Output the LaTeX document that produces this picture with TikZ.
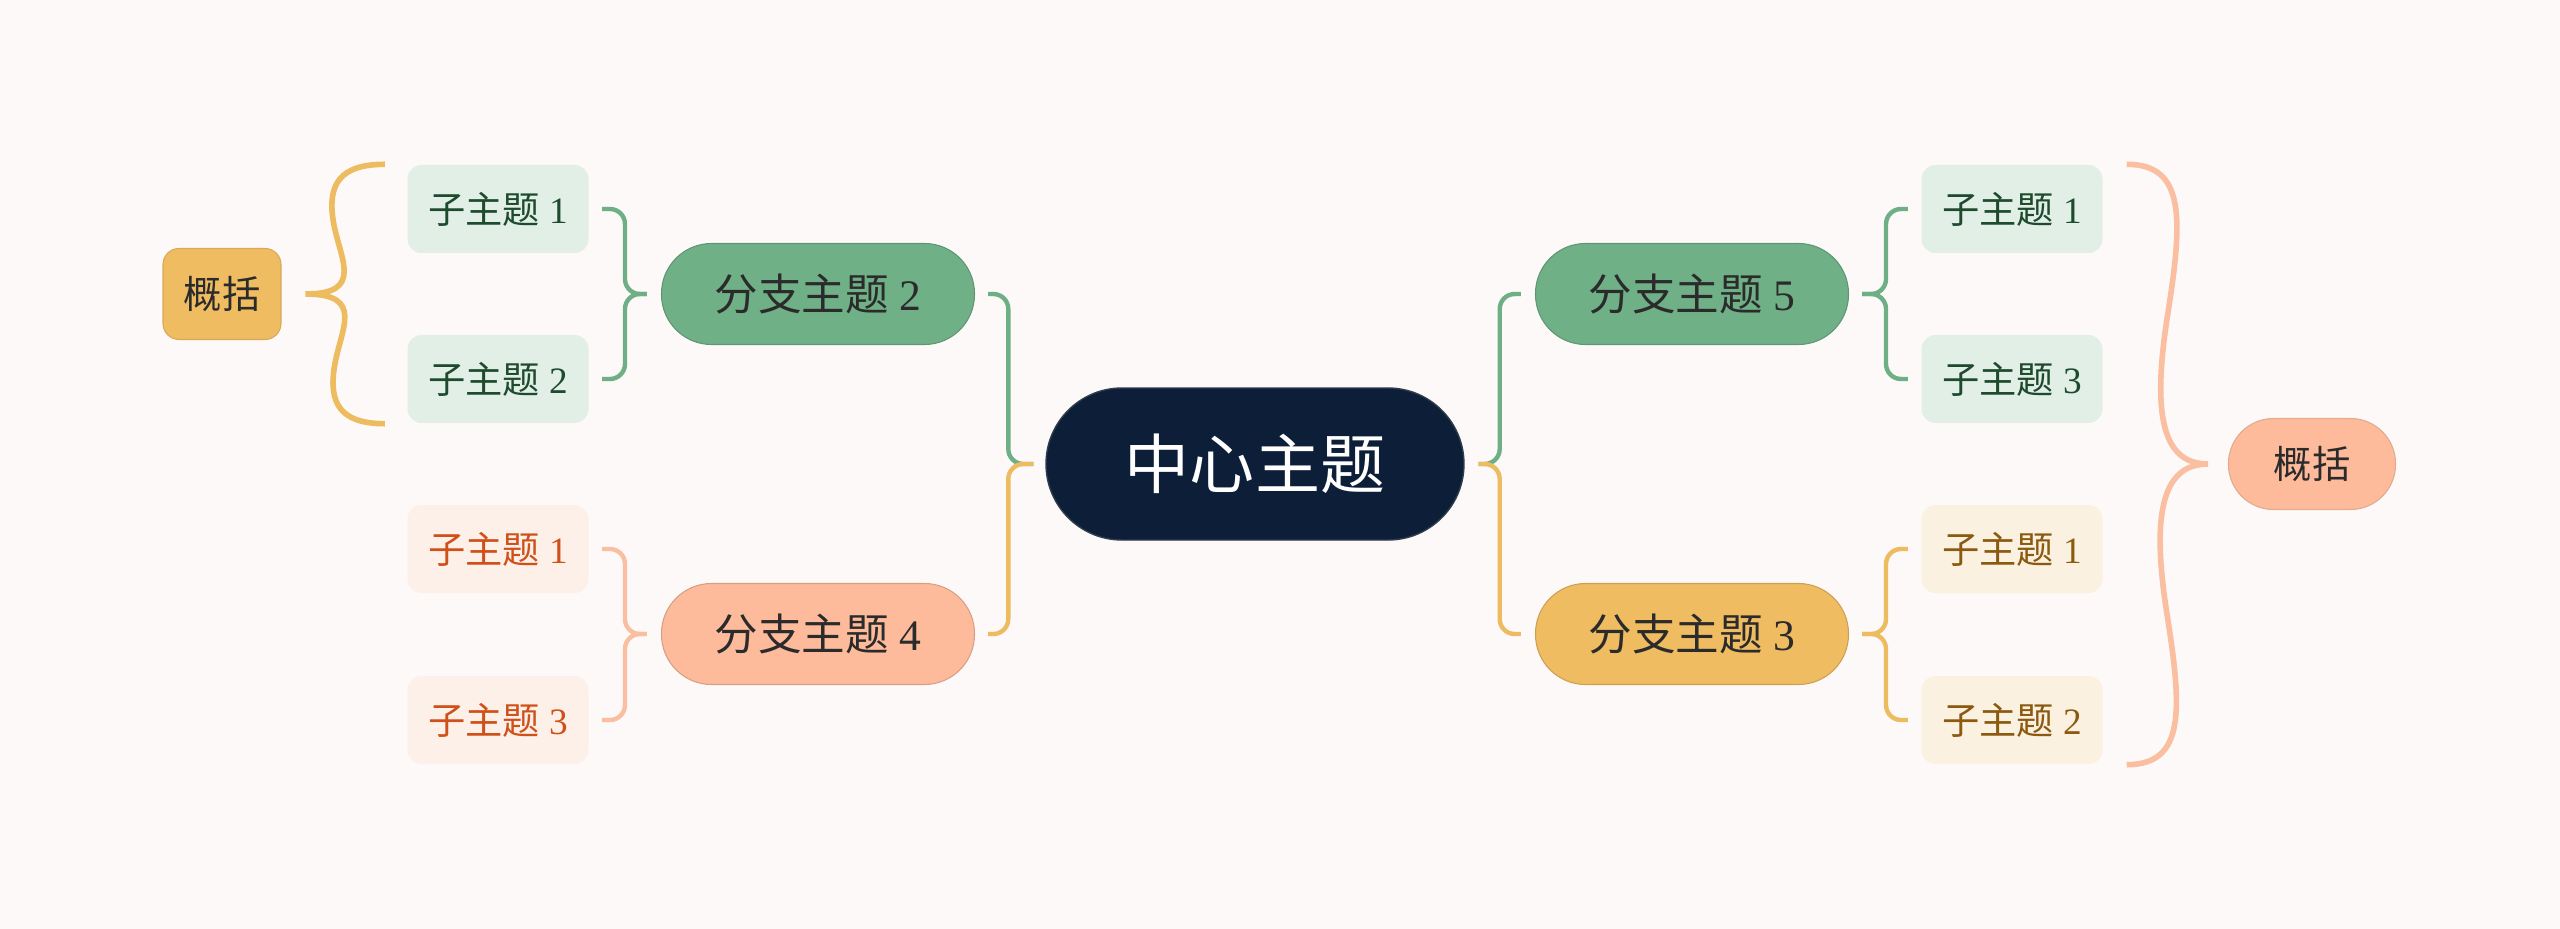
\documentclass[tikz,border=0pt]{standalone}
\usepackage{fontspec}
\setmainfont{Liberation Serif}
\newfontfamily\cjk{Noto Sans CJK SC}
\definecolor{paper}{HTML}{FDF9F8}
\definecolor{navy}{HTML}{0D1F38}
\definecolor{ink}{HTML}{2B2B2B}
\definecolor{topicgreen}{HTML}{70B087}
\definecolor{topicpeach}{HTML}{FDBB9B}
\definecolor{topicyellow}{HTML}{F0BC62}
\definecolor{greenlt}{HTML}{E1EFE6}
\definecolor{peachlt}{HTML}{FDF0E9}
\definecolor{yellowlt}{HTML}{FBF1E1}
\definecolor{greentx}{HTML}{1E4A2E}
\definecolor{peachtx}{HTML}{D0501A}
\definecolor{yellowtx}{HTML}{8B5A10}
\definecolor{linegreen}{HTML}{6FAF86}
\definecolor{lineyellow}{HTML}{EDBB60}
\definecolor{linepeach}{HTML}{F9BFA0}
\begin{document}
\begin{tikzpicture}[
x=0.1mm, y=-0.1mm,
every node/.style={inner sep=0pt},
centretopic/.style={fill=navy, draw=navy!70!gray, text=white, minimum width=41.8mm, minimum height=15.2mm, rounded corners=7.6mm, font=\cjk\fontsize{18.5}{22}\selectfont},
branchtopic/.style={fill=#1, draw=#1!85!black, line width=0.3pt, text=ink, minimum width=31.3mm, minimum height=10.1mm, rounded corners=5mm, font=\fontsize{12.4}{14}\selectfont},
subtopic/.style 2 args={fill=#1, text=#2, minimum width=18.1mm, minimum height=8.8mm, rounded corners=1.4mm, font=\fontsize{10.6}{12}\selectfont},
sumbox/.style={fill=#1, draw=#1!90!black, line width=0.3pt, text=ink, minimum height=9.1mm, font=\cjk\fontsize{10.9}{12}\selectfont},
linkline/.style={draw=#1, line width=1.25pt, rounded corners=1.5mm},
sumbrace/.style={draw=#1, line width=1.6pt}
]
\fill[paper] (0,0) rectangle (2560,929);

% centre and branches
\node[centretopic] (c) at (1255,464) {中心主题};
\node[branchtopic=topicgreen] (b2) at (818,294) {{\cjk 分支主题} 2};
\node[branchtopic=topicpeach] (b4) at (818,634) {{\cjk 分支主题} 4};
\node[branchtopic=topicgreen] (b5) at (1692,294) {{\cjk 分支主题} 5};
\node[branchtopic=topicyellow] (b3) at (1692,634) {{\cjk 分支主题} 3};

% sub topics
\node[subtopic={greenlt}{greentx}] (s21) at (498,209) {{\cjk 子主题} 1};
\node[subtopic={greenlt}{greentx}] (s22) at (498,379) {{\cjk 子主题} 2};
\node[subtopic={peachlt}{peachtx}] (s41) at (498,549) {{\cjk 子主题} 1};
\node[subtopic={peachlt}{peachtx}] (s43) at (498,720) {{\cjk 子主题} 3};
\node[subtopic={greenlt}{greentx}] (s51) at (2012,209) {{\cjk 子主题} 1};
\node[subtopic={greenlt}{greentx}] (s53) at (2012,379) {{\cjk 子主题} 3};
\node[subtopic={yellowlt}{yellowtx}] (s31) at (2012,549) {{\cjk 子主题} 1};
\node[subtopic={yellowlt}{yellowtx}] (s32) at (2012,720) {{\cjk 子主题} 2};

% summaries
\node[sumbox=topicyellow, minimum width=11.8mm, rounded corners=1.6mm] (sum1) at (222,294) {概括};
\node[sumbox=topicpeach, minimum width=16.7mm, rounded corners=4.5mm] (sum2) at (2312,464) {概括};

% centre links
\draw[linkline=linegreen] ([xshift=-1.2mm]c.west) -- ++(-25,0) |- ([xshift=1.3mm]b2.east);
\draw[linkline=lineyellow] ([xshift=-1.2mm]c.west) -- ++(-25,0) |- ([xshift=1.3mm]b4.east);
\draw[linkline=linegreen] ([xshift=1.4mm]c.east) -- ++(21,0) |- ([xshift=-1.4mm]b5.west);
\draw[linkline=lineyellow] ([xshift=1.4mm]c.east) -- ++(21,0) |- ([xshift=-1.4mm]b3.west);

% branch links
\draw[linkline=linegreen] ([xshift=-1.4mm]b2.west) -- ++(-22,0) |- ([xshift=1.3mm]s21.east);
\draw[linkline=linegreen] ([xshift=-1.4mm]b2.west) -- ++(-22,0) |- ([xshift=1.3mm]s22.east);
\draw[linkline=linepeach] ([xshift=-1.4mm]b4.west) -- ++(-22,0) |- ([xshift=1.3mm]s41.east);
\draw[linkline=linepeach] ([xshift=-1.4mm]b4.west) -- ++(-22,0) |- ([xshift=1.3mm]s43.east);
\draw[linkline=linegreen] ([xshift=1.3mm]b5.east) -- ++(24,0) |- ([xshift=-1.3mm]s51.west);
\draw[linkline=linegreen] ([xshift=1.3mm]b5.east) -- ++(24,0) |- ([xshift=-1.3mm]s53.west);
\draw[linkline=lineyellow] ([xshift=1.3mm]b3.east) -- ++(24,0) |- ([xshift=-1.3mm]s31.west);
\draw[linkline=lineyellow] ([xshift=1.3mm]b3.east) -- ++(24,0) |- ([xshift=-1.3mm]s32.west);

% summary braces
\draw[sumbrace=lineyellow] ([xshift=-2.2mm]s21.north west)
  .. controls +(-45,0) and +(-6,-37) .. ++(-51.5,57)
  .. controls +(6,37) and +(60,0) .. ([xshift=2.4mm]sum1.east)
  .. controls +(60,0) and +(6,-37) .. ++(29,72)
  .. controls +(-6,37) and +(-45,0) .. ([xshift=-2.2mm]s22.south west);
\draw[sumbrace=linepeach] ([xshift=2.35mm]s51.north east)
  .. controls +(59,0) and +(15,-95) .. ++(41,150)
  .. controls +(-15,95) and +(-48,0) .. ([xshift=-2mm]sum2.west)
  .. controls +(-48,0) and +(-15,-95) .. ++(-41,150)
  .. controls +(15,95) and +(59,0) .. ([xshift=2.35mm]s32.south east);
\end{tikzpicture}
\end{document}
